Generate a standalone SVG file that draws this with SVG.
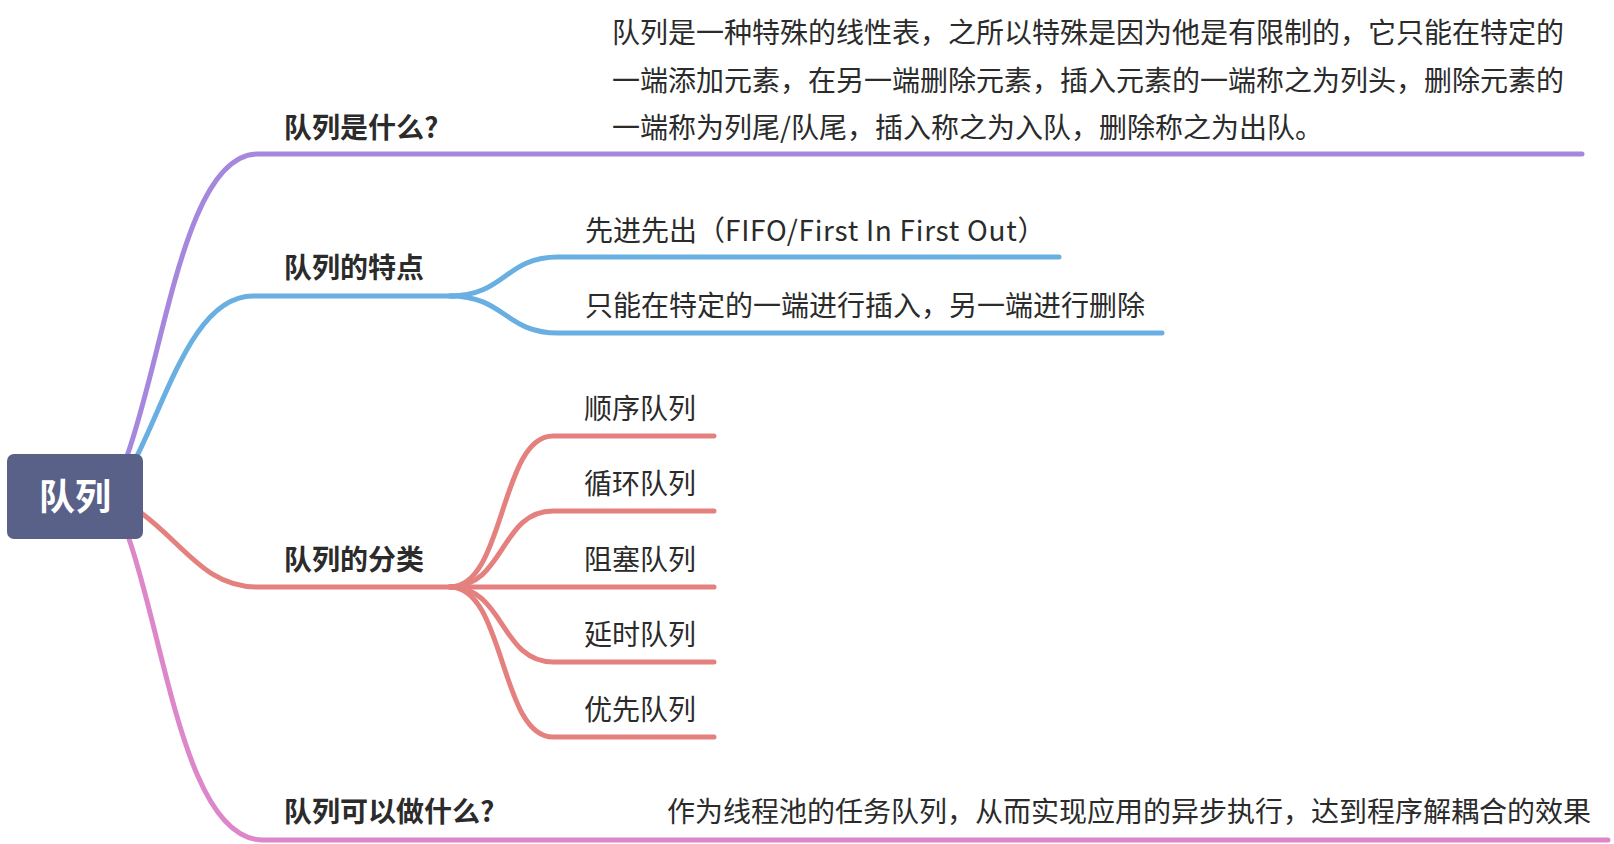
<svg xmlns="http://www.w3.org/2000/svg" width="1614" height="844" viewBox="0 0 1614 844">
<style>
.t{font-family:"Noto Sans CJK SC","Noto Sans",sans-serif;font-size:28px;fill:#2b2b2b}
.b{font-weight:bold}
.c{fill:none;stroke-width:5;stroke-linecap:round;stroke-linejoin:round}
.pu{stroke:#a687de}.bl{stroke:#6aafe2}.sa{stroke:#e4817f}.ma{stroke:#dd86c9}
</style>
<rect width="1614" height="844" fill="#ffffff"/>
<g id="connectors">
<path class="c pu" d="M127,456 C165,350 185,154 258,154 L1582,154"/>
<path class="c bl" d="M136,458 C168,395 195,296 253,296 L455,296"/>
<path class="c bl" d="M450,296 C505,296 505,257 558,257 L1059,257"/>
<path class="c bl" d="M450,296 C505,296 505,333 558,333 L1162,333"/>
<path class="c sa" d="M140,512 C185,545 205,587 258,587 L455,587"/>
<path class="c sa" d="M450,587 C505,587 500,436 553,436 L714,436"/>
<path class="c sa" d="M450,587 C505,587 500,511 553,511 L714,511"/>
<path class="c sa" d="M450,587 L714,587"/>
<path class="c sa" d="M450,587 C505,587 500,662 553,662 L714,662"/>
<path class="c sa" d="M450,587 C505,587 500,737 553,737 L714,737"/>
<path class="c ma" d="M128,536 C165,640 185,840 263,840 L1608,840"/>
</g>
<g id="root">
<rect x="7" y="454" width="136" height="85" rx="7" fill="#596188"/>
<text class="t b" x="75" y="510" text-anchor="middle" style="font-size:36px;fill:#ffffff">队列</text>
</g>
<g id="what">
<text class="t b" x="284" y="138">队列是什么?</text>
</g>
<g id="what-desc">
<text class="t" x="612" y="43">队列是一种特殊的线性表，之所以特殊是因为他是有限制的，它只能在特定的</text>
<text class="t" x="612" y="91">一端添加元素，在另一端删除元素，插入元素的一端称之为列头，删除元素的</text>
<text class="t" x="612" y="138">一端称为列尾/队尾，插入称之为入队，删除称之为出队。</text>
</g>
<g id="features">
<text class="t b" x="284" y="278">队列的特点</text>
</g>
<g id="fifo">
<text class="t" x="585" y="241">先进先出（<tspan letter-spacing="0.7">FIFO/First In First Out</tspan>）</text>
</g>
<g id="one-end">
<text class="t" x="585" y="316">只能在特定的一端进行插入，另一端进行删除</text>
</g>
<g id="types">
<text class="t b" x="284" y="570">队列的分类</text>
</g>
<g id="seq"><text class="t" x="584" y="419">顺序队列</text></g>
<g id="circ"><text class="t" x="584" y="494">循环队列</text></g>
<g id="block"><text class="t" x="584" y="570">阻塞队列</text></g>
<g id="delay"><text class="t" x="584" y="645">延时队列</text></g>
<g id="prio"><text class="t" x="584" y="720">优先队列</text></g>
<g id="use">
<text class="t b" x="284" y="822">队列可以做什么?</text>
</g>
<g id="use-desc">
<text class="t" x="667" y="822">作为线程池的任务队列，从而实现应用的异步执行，达到程序解耦合的效果</text>
</g>
</svg>
